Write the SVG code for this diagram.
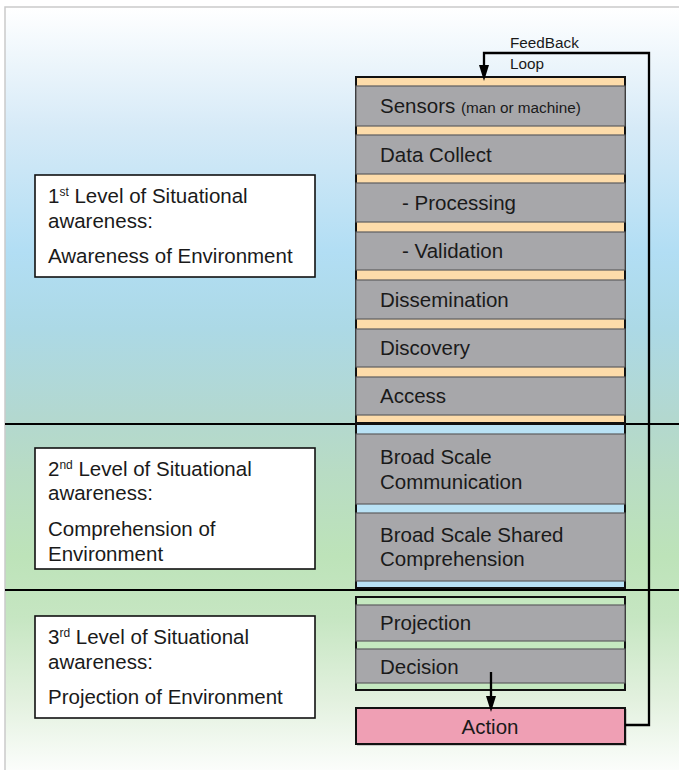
<svg xmlns="http://www.w3.org/2000/svg" width="679" height="770" viewBox="0 0 679 770">
  <defs>
    <linearGradient id="bg" x1="0" y1="7" x2="0" y2="770" gradientUnits="userSpaceOnUse">
      <stop offset="0" stop-color="#ffffff"/>
      <stop offset="0.16" stop-color="#d6eaf7"/>
      <stop offset="0.32" stop-color="#b2def4"/>
      <stop offset="0.42" stop-color="#acd9e6"/>
      <stop offset="0.54" stop-color="#b3d8cf"/>
      <stop offset="0.61" stop-color="#b8dcc4"/>
      <stop offset="0.72" stop-color="#bde3b9"/>
      <stop offset="0.80" stop-color="#c6e6c2"/>
      <stop offset="0.91" stop-color="#e3f1df"/>
      <stop offset="1" stop-color="#fbfdfb"/>
    </linearGradient>
    <marker id="arrow" viewBox="0 0 16 10" markerWidth="16" markerHeight="10" refX="10" refY="5" orient="auto" markerUnits="userSpaceOnUse">
      <path d="M0,0 L16,5 L0,10 z" fill="#000"/>
    </marker>
    <style>
      text { font-family: "Liberation Sans", Arial, sans-serif; fill: #1a1a1a; }
      .lbl { font-size: 20.5px; }
      .small { font-size: 15.3px; }
      .sup { font-size: 12px; }
      .level { fill: #ffffff; stroke: #111; stroke-width: 1.6; }
      .frame { stroke: #111; stroke-width: 2; }
      .step { fill: #a7a7aa; stroke: #5e5e60; stroke-width: 1.2; }
      .band { stroke: #000; stroke-width: 2; }
      .conn { fill: none; stroke: #000; stroke-width: 2.3; }
    </style>
  </defs>

  <!-- background panel -->
  <rect x="5" y="7" width="690" height="780" fill="url(#bg)" stroke="#cacaca" stroke-width="1.5"/>

  <!-- level separators -->
  <line class="band" x1="5" y1="424" x2="679" y2="424"/>
  <line class="band" x1="5" y1="590" x2="679" y2="590"/>

  <!-- level descriptions -->
  <g id="level1">
    <rect class="level" x="35" y="175" width="280" height="102"/>
    <text class="lbl" x="48" y="203">1<tspan class="sup" dy="-7">st</tspan><tspan dy="7"> Level of Situational</tspan></text>
    <text class="lbl" x="48" y="228">awareness:</text>
    <text class="lbl" x="48" y="263">Awareness of Environment</text>
  </g>
  <g id="level2">
    <rect class="level" x="35" y="448" width="280" height="121"/>
    <text class="lbl" x="48" y="476">2<tspan class="sup" dy="-7">nd</tspan><tspan dy="7"> Level of Situational</tspan></text>
    <text class="lbl" x="48" y="500">awareness:</text>
    <text class="lbl" x="48" y="536">Comprehension of</text>
    <text class="lbl" x="48" y="561">Environment</text>
  </g>
  <g id="level3">
    <rect class="level" x="35" y="616" width="280" height="102"/>
    <text class="lbl" x="48" y="644">3<tspan class="sup" dy="-7">rd</tspan><tspan dy="7"> Level of Situational</tspan></text>
    <text class="lbl" x="48" y="669">awareness:</text>
    <text class="lbl" x="48" y="704">Projection of Environment</text>
  </g>

  <!-- process stack, first level -->
  <g id="stack1">
    <rect class="frame" x="356" y="77" width="269" height="346" fill="#fddcaa"/>
  </g>
  <g id="sensors">
    <rect class="step" x="356" y="86" width="269" height="40"/>
    <text class="lbl" x="380" y="113">Sensors <tspan class="small">(man or machine)</tspan></text>
  </g>
  <g id="data-collect">
    <rect class="step" x="356" y="135" width="269" height="39"/>
    <text class="lbl" x="380" y="161.5">Data Collect</text>
  </g>
  <g id="processing">
    <rect class="step" x="356" y="183" width="269" height="39"/>
    <text class="lbl" x="402" y="210">- Processing</text>
  </g>
  <g id="validation">
    <rect class="step" x="356" y="232" width="269" height="38"/>
    <text class="lbl" x="402" y="258">- Validation</text>
  </g>
  <g id="dissemination">
    <rect class="step" x="356" y="280" width="269" height="39"/>
    <text class="lbl" x="380" y="306.5">Dissemination</text>
  </g>
  <g id="discovery">
    <rect class="step" x="356" y="329" width="269" height="38"/>
    <text class="lbl" x="380" y="354.5">Discovery</text>
  </g>
  <g id="access">
    <rect class="step" x="356" y="377" width="269" height="38"/>
    <text class="lbl" x="380" y="403">Access</text>
  </g>

  <!-- process stack, second level -->
  <g id="stack2">
    <rect class="frame" x="356" y="424" width="269" height="164" fill="#b9e2f5"/>
  </g>
  <g id="broad-comm">
    <rect class="step" x="356" y="434" width="269" height="70"/>
    <text class="lbl" x="380" y="464">Broad Scale</text>
    <text class="lbl" x="380" y="489">Communication</text>
  </g>
  <g id="broad-shared">
    <rect class="step" x="356" y="513" width="269" height="68"/>
    <text class="lbl" x="380" y="542">Broad Scale Shared</text>
    <text class="lbl" x="380" y="566">Comprehension</text>
  </g>

  <!-- process stack, third level -->
  <g id="stack3">
    <rect class="frame" x="356" y="597" width="269" height="93" fill="#c5e8c0"/>
  </g>
  <g id="projection">
    <rect class="step" x="356" y="605" width="269" height="36"/>
    <text class="lbl" x="380" y="630">Projection</text>
  </g>
  <g id="decision">
    <rect class="step" x="356" y="649" width="269" height="34"/>
    <text class="lbl" x="380" y="674">Decision</text>
  </g>

  <g id="action">
    <rect x="357" y="709" width="270" height="37" fill="#9a9a9a" opacity="0.5"/>
    <rect class="frame" x="356" y="708" width="269" height="36" fill="#ef9fb4"/>
    <text class="lbl" x="490" y="734" text-anchor="middle">Action</text>
  </g>

  <!-- connectors -->
  <g id="connectors">
    <path class="conn" d="M491,672 V706" marker-end="url(#arrow)"/>
    <path class="conn" d="M625,725 H649 V53 H484 V75" marker-end="url(#arrow)"/>
    <text class="small" x="510" y="48">FeedBack</text>
    <text class="small" x="510" y="69">Loop</text>
  </g>
</svg>
